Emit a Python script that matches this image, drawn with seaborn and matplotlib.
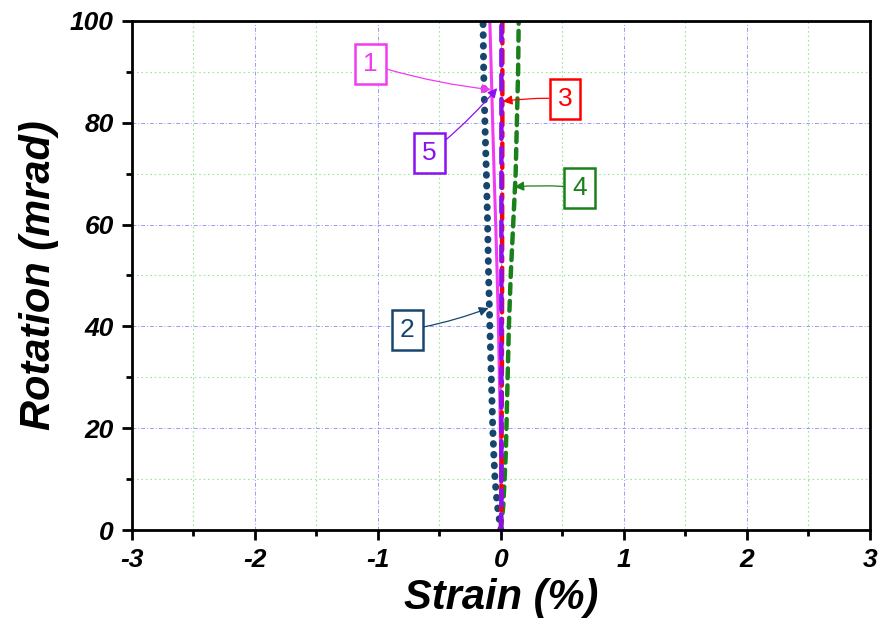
import numpy as np
import pandas as pd
import matplotlib
matplotlib.use("Agg")
import matplotlib.pyplot as plt
import seaborn as sns

# 转角 (mrad) 与各测点应变 (%)
rotation = [0, 5, 10, 15, 20, 25, 30, 40, 50, 60, 70, 80, 90, 100]
strain_1 = [0.0, 0.0, 0.0, -0.002, -0.005, -0.008, -0.012, -0.02, -0.03, -0.042, -0.055, -0.067, -0.078, -0.09]
strain_2 = [0.0, -0.03, -0.048, -0.058, -0.066, -0.072, -0.078, -0.09, -0.1, -0.108, -0.118, -0.13, -0.14, -0.145]
strain_3 = [0.0, 0.005, 0.005, 0.006, 0.006, 0.007, 0.008, 0.009, 0.01, 0.01, 0.011, 0.012, 0.012, 0.012]
strain_4 = [0.0, 0.02, 0.03, 0.04, 0.045, 0.05, 0.055, 0.065, 0.08, 0.1, 0.12, 0.13, 0.14, 0.145]
strain_5 = [0.0, 0.004, 0.004, 0.004, 0.004, 0.004, 0.004, 0.004, 0.004, 0.004, 0.004, 0.004, 0.004, 0.004]

x_ticks = [-3, -2, -1, 0, 1, 2, 3]
y_ticks = [0, 20, 40, 60, 80, 100]

# 标注框: (标签, 框位置, 箭头终点)
labels = ["1", "2", "3", "4", "5"]
box_xy = [(-1.06, 91.5), (-0.76, 39.3), (0.52, 84.7), (0.64, 67.2), (-0.58, 74.0)]
arrow_xy = [(-0.08, 86.5), (-0.1, 43.6), (0.015, 84.2), (0.11, 67.4), (-0.03, 86.8)]

sns.set_style("white")
plt.rcParams["font.family"] = ["Liberation Sans", "DejaVu Sans"]
plt.rcParams["text.color"] = "black"
plt.rcParams["xtick.color"] = "black"
plt.rcParams["ytick.color"] = "black"
plt.rcParams["axes.labelcolor"] = "black"

fig = plt.figure(figsize=(8.83, 6.34), dpi=100)
ax = fig.add_axes([0.1495, 0.164, 0.8355, 0.803])

series = [
    ("2", strain_2, "#16466e", (0, (0.1, 1.45)), 5.0),
    ("4", strain_4, "#1a801a", (0, (2.2, 1.6)), 3.2),
    ("1", strain_1, "#f03cf0", "-", 2.2),
    ("3", strain_3, "#ff0000", (0, (3, 1.5, 1, 1.5)), 3.2),
    ("5", strain_5, "#8a10f0", (0, (3.5, 2.0)), 3.2),
]
colors = {}
for name, vals, color, ls, lw in series:
    df = pd.DataFrame({"strain": vals, "rotation": rotation})
    sns.lineplot(data=df, x="strain", y="rotation", orient="y", sort=False,
                 color=color, linewidth=lw, linestyle=ls, ax=ax,
                 dash_capstyle="round", solid_capstyle="round")
    colors[name] = color

ax.set_xlim(-3, 3)
ax.set_ylim(0, 100)
ax.set_xticks(x_ticks)
ax.set_yticks(y_ticks)
ax.set_xticks(np.arange(-2.5, 3, 1.0), minor=True)
ax.set_yticks(np.arange(10, 100, 20), minor=True)

# 网格：主网格蓝色点划线，次网格绿色点线
ax.grid(which="major", color="#9a9af5", linestyle=(0, (4, 2, 1, 2)), linewidth=0.7)
ax.grid(which="minor", color="#9be89b", linestyle=(0, (1.5, 2.5)), linewidth=0.8)
ax.set_axisbelow(True)

for s in ax.spines.values():
    s.set_visible(True)
    s.set_linewidth(2.0)
    s.set_color("black")

ax.tick_params(which="major", direction="out", length=7, width=2,
               bottom=True, left=True, top=False, right=False, pad=6)
ax.tick_params(which="minor", direction="out", length=4, width=2,
               bottom=True, left=True, top=False, right=False)

tick_font = dict(fontsize=19, fontweight="bold", fontstyle="italic")
ax.set_xticklabels([str(t) for t in x_ticks], **tick_font)
ax.set_yticklabels([str(t) for t in y_ticks], **tick_font)

ax.set_xlabel("Strain (%)", fontsize=30, fontweight="bold", fontstyle="italic", labelpad=4)
ax.set_ylabel("Rotation (mrad)", fontsize=30, fontweight="bold", fontstyle="italic", labelpad=8)

for lab, bxy, axy in zip(labels, box_xy, arrow_xy):
    c = colors[lab]
    ax.annotate(lab, xy=axy, xytext=bxy, ha="center", va="center",
                fontsize=19, color=c,
                bbox=dict(boxstyle="square,pad=0.3", fc="white", ec=c, lw=1.8),
                arrowprops=dict(arrowstyle="-|>", color=c, lw=0.9,
                                mutation_scale=14, shrinkA=0, shrinkB=0,
                                connectionstyle="arc3,rad=0.05"))

fig.savefig("out.png", dpi=100)
